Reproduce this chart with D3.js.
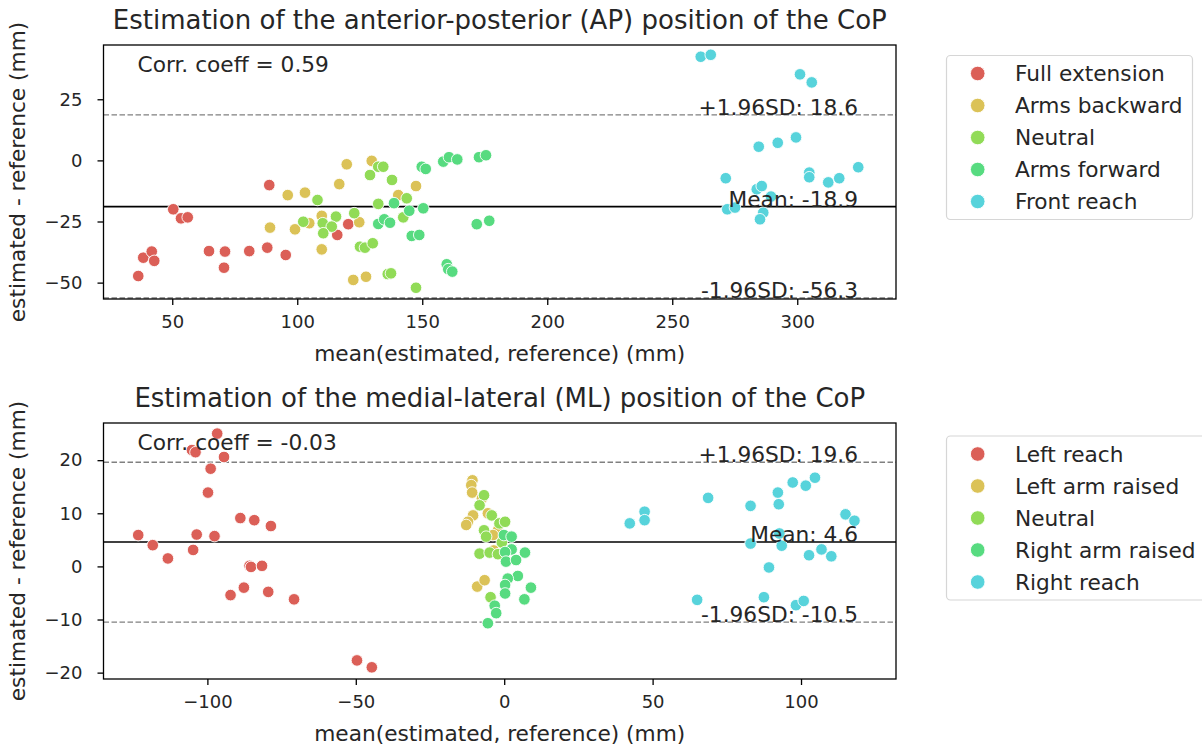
<!DOCTYPE html>
<html>
<head>
<meta charset="utf-8">
<script src="https://cdn.jsdelivr.net/npm/d3@7"></script>
<style>
  body { margin: 0; background: #fff; }
  svg text { font-family: "DejaVu Sans", sans-serif; fill: #262626; }
</style>
</head>
<body>
<svg id="chart"></svg>
<script>
// Chart size
const width = 1202;
const height = 746;

// AP panel data: [mean(estimated, reference), estimated - reference]
const apFullExtension = [[36.4,-47.3],[38.4,-39.8],[41.8,-37.3],[42.8,-41.1],[50.4,-20.0],[53.5,-23.7],[56.2,-23.3],[64.7,-37.1],[71.1,-37.3],[70.7,-43.9],[80.8,-37.1],[88.8,-10.1],[88.0,-35.7],[95.4,-38.7],[116.0,-30.5],[120.4,-26.1]];
const apArmsBackward = [[96.2,-14.2],[89.1,-27.5],[99.1,-28.2],[103.1,-13.2],[119.8,-1.6],[116.8,-9.7],[129.8,-0.2],[147.5,-10.5],[140.4,-14.2],[104.8,-25.7],[109.8,-22.7],[124.8,-25.3],[109.8,-36.4],[122.4,-48.9],[127.5,-47.6]];
const apNeutral = [[132.4,-2.6],[134.4,-2.6],[129.1,-6.0],[137.9,-8.0],[108.1,-16.2],[143.8,-15.5],[132.4,-17.8],[102.4,-25.1],[110.2,-25.7],[115.5,-23.0],[113.8,-27.1],[110.4,-29.8],[122.8,-21.6],[125.1,-35.3],[127.1,-35.7],[130.2,-33.9],[142.4,-23.3],[136.2,-46.5],[137.5,-46.2],[147.5,-52.1]];
const apArmsForward = [[149.8,-2.6],[151.4,-3.5],[158.4,-0.5],[160.7,1.3],[164.0,0.4],[172.7,1.3],[175.5,2.1],[138.7,-17.5],[144.8,-20.6],[150.4,-19.6],[132.4,-26.0],[134.8,-24.1],[137.1,-25.5],[145.8,-30.9],[148.8,-30.5],[171.8,-26.1],[176.8,-24.7],[159.8,-42.5],[160.4,-44.5],[162.0,-45.5]];
const apFrontReach = [[261.4,42.4],[265.4,43.2],[301.1,35.2],[305.8,31.9],[284.6,5.6],[292.2,7.2],[299.5,9.4],[324.4,-2.8],[271.4,-7.3],[304.8,-5.0],[304.8,-6.9],[312.4,-9.0],[316.8,-7.3],[283.8,-11.8],[285.8,-10.5],[289.5,-14.8],[272.0,-20.0],[275.1,-19.3],[286.4,-21.4],[285.1,-24.1]];
const apLabels = ["Full extension", "Arms backward", "Neutral", "Arms forward", "Front reach"];
const apLimits = [18.6, -18.9, -56.3];   // +1.96SD, mean, -1.96SD
const apCorr = "0.59";
const apXTicks = [50, 100, 150, 200, 250, 300];
const apYTicks = [-50, -25, 0, 25];

// ML panel data
const mlLeftReach = [[-123.3,5.9],[-118.4,4.0],[-113.3,1.5],[-104.8,3.1],[-103.6,6.0],[-105.2,21.9],[-104.0,21.5],[-96.7,25.0],[-94.4,20.6],[-98.9,18.4],[-99.8,13.9],[-97.6,5.7],[-88.9,9.1],[-84.2,8.7],[-78.6,7.6],[-85.8,0.1],[-85.3,-0.1],[-81.6,0.1],[-92.2,-5.4],[-87.7,-4.0],[-79.5,-4.8],[-70.8,-6.2],[-49.6,-17.7],[-44.6,-19.0]];
const mlLeftArmRaised = [[-10.7,16.2],[-11.1,15.3],[-10.8,13.9],[-10.5,9.6],[-12.2,8.4],[-12.8,7.8],[-5.5,10.0],[-2.1,6.8],[-3.8,5.9],[-9.1,-3.8],[-6.6,-2.6],[-7.5,12.8],[-3.5,3.0]];
const mlNeutral = [[-6.8,13.4],[-8.3,11.5],[-4.2,9.6],[-1.6,8.1],[0.3,8.4],[-6.8,6.8],[-6.1,5.6],[-8.3,2.4],[-4.9,2.6],[-2.1,2.3],[-4.6,-5.8],[-0.8,4.5]];
const mlRightArmRaised = [[-0.1,5.9],[2.5,5.6],[2.5,3.2],[0.3,2.7],[7.0,2.6],[0.6,0.9],[4.0,1.2],[4.6,-1.8],[1.2,-2.3],[0.3,-3.5],[9.0,-4.0],[0.3,-5.1],[6.8,-6.2],[-3.2,-7.4],[-2.7,-8.8],[-5.5,-10.7]];
const mlRightReach = [[42.3,8.1],[47.3,10.3],[47.3,8.7],[68.7,12.9],[83.0,11.4],[92.2,13.9],[92.5,11.7],[97.2,15.8],[101.6,15.2],[104.7,16.7],[115.0,9.8],[118.0,8.6],[83.0,4.3],[92.7,6.2],[93.5,3.9],[102.7,2.1],[106.9,3.2],[110.2,1.9],[89.2,-0.2],[65.0,-6.3],[87.5,-5.8],[98.3,-7.3],[100.9,-6.5]];
const mlLabels = ["Left reach", "Left arm raised", "Neutral", "Right arm raised", "Right reach"];
const mlLimits = [19.6, 4.6, -10.5];
const mlCorr = "-0.03";
const mlXTicks = [-100, -50, 0, 50, 100];
const mlYTicks = [-20, -10, 0, 10, 20];

// seaborn hls palette (5 colours)
const palette = ["#db5f57", "#dbc257", "#91db57", "#57db80", "#57d3db"];

const svg = d3.select("#chart")
    .attr("width", width)
    .attr("height", height);

function drawPanel(cfg) {
    const x = d3.scaleLinear().domain(cfg.xDomain).range([cfg.left, cfg.right]);
    const y = d3.scaleLinear().domain(cfg.yDomain).range([cfg.bottom, cfg.top]);
    const g = svg.append("g");

    // title
    g.append("text")
        .attr("x", (cfg.left + cfg.right) / 2)
        .attr("y", cfg.top - 16)
        .attr("text-anchor", "middle")
        .attr("font-size", "26px")
        .text(cfg.title);

    // limits of agreement
    const styles = [
        { dash: "5.5,2.5", color: "#808080", w: 1.4, label: "+1.96SD: " },
        { dash: null, color: "#000", w: 1.6, label: "Mean: " },
        { dash: "5.5,2.5", color: "#808080", w: 1.4, label: "-1.96SD: " }
    ];
    cfg.limits.forEach((v, i) => {
        g.append("line")
            .attr("x1", cfg.left).attr("x2", cfg.right)
            .attr("y1", y(v)).attr("y2", y(v))
            .attr("stroke", styles[i].color)
            .attr("stroke-width", styles[i].w)
            .attr("stroke-dasharray", styles[i].dash);
    });

    // scatter points, one group per category
    cfg.series.forEach((s, i) => {
        g.append("g").selectAll("circle")
            .data(s)
            .enter().append("circle")
            .attr("cx", d => x(d[0]))
            .attr("cy", d => y(d[1]))
            .attr("r", 5.8)
            .attr("fill", palette[i])
            .attr("stroke", "#fff")
            .attr("stroke-width", 0.9);
    });

    // limit annotations
    cfg.limits.forEach((v, i) => {
        g.append("text")
            .attr("x", cfg.left + 0.952 * (cfg.right - cfg.left))
            .attr("y", y(v))
            .attr("text-anchor", "end")
            .attr("font-size", "21.7px")
            .text(styles[i].label + v.toFixed(1));
    });

    g.append("text")
        .attr("x", cfg.left + 34)
        .attr("y", cfg.top + 27)
        .attr("font-size", "21.7px")
        .text("Corr. coeff = " + cfg.corr);

    // frame
    g.append("rect")
        .attr("x", cfg.left).attr("y", cfg.top)
        .attr("width", cfg.right - cfg.left)
        .attr("height", cfg.bottom - cfg.top)
        .attr("fill", "none")
        .attr("stroke", "#000")
        .attr("stroke-width", 1.3);

    // axes
    const xAxis = g.append("g")
        .attr("transform", `translate(0,${cfg.bottom})`)
        .call(d3.axisBottom(x).tickValues(cfg.xTicks).tickSize(6).tickPadding(10));
    const yAxis = g.append("g")
        .attr("transform", `translate(${cfg.left},0)`)
        .call(d3.axisLeft(y).tickValues(cfg.yTicks).tickSize(6).tickPadding(15));
    [xAxis, yAxis].forEach(a => {
        a.select(".domain").remove();
        a.selectAll(".tick line").attr("stroke", "#000").attr("stroke-width", 1.3);
        a.selectAll(".tick text")
            .attr("font-size", "18px")
            .attr("font-family", "DejaVu Sans, sans-serif")
            .attr("fill", "#262626");
    });

    // axis labels
    g.append("text")
        .attr("x", (cfg.left + cfg.right) / 2)
        .attr("y", cfg.bottom + 62)
        .attr("text-anchor", "middle")
        .attr("font-size", "21.7px")
        .text("mean(estimated, reference) (mm)");
    g.append("text")
        .attr("transform", `translate(25,${(cfg.top + cfg.bottom) / 2}) rotate(-90)`)
        .attr("text-anchor", "middle")
        .attr("font-size", "21.7px")
        .text("estimated - reference (mm)");

    // legend
    const lg = g.append("g");
    lg.append("rect")
        .attr("x", 946.5).attr("y", cfg.legendTop)
        .attr("width", cfg.legendWidth).attr("height", 164)
        .attr("rx", 4)
        .attr("fill", "#fff")
        .attr("stroke", "#d6d6d6")
        .attr("stroke-width", 1.2);
    cfg.labels.forEach((lab, i) => {
        const yy = cfg.legendTop + 18 + i * 32;
        lg.append("circle")
            .attr("cx", 977.7).attr("cy", yy)
            .attr("r", 7.3)
            .attr("fill", palette[i])
            .attr("stroke", "#fff")
            .attr("stroke-width", 0.9);
        lg.append("text")
            .attr("x", 1015).attr("y", yy + 7.5)
            .attr("font-size", "21.7px")
            .text(lab);
    });
}

drawPanel({
    title: "Estimation of the anterior-posterior (AP) position of the CoP",
    left: 103.5, right: 896, top: 45, bottom: 299,
    xDomain: [22.5, 339.5], yDomain: [-56.7, 47.2],
    series: [apFullExtension, apArmsBackward, apNeutral, apArmsForward, apFrontReach],
    labels: apLabels, limits: apLimits, corr: apCorr,
    xTicks: apXTicks, yTicks: apYTicks,
    legendTop: 55.5, legendWidth: 246
});

drawPanel({
    title: "Estimation of the medial-lateral (ML) position of the CoP",
    left: 103.5, right: 896, top: 423, bottom: 679,
    xDomain: [-135, 132], yDomain: [-21.2, 27.0],
    series: [mlLeftReach, mlLeftArmRaised, mlNeutral, mlRightArmRaised, mlRightReach],
    labels: mlLabels, limits: mlLimits, corr: mlCorr,
    xTicks: mlXTicks, yTicks: mlYTicks,
    legendTop: 436, legendWidth: 270
});
</script>
</body>
</html>
